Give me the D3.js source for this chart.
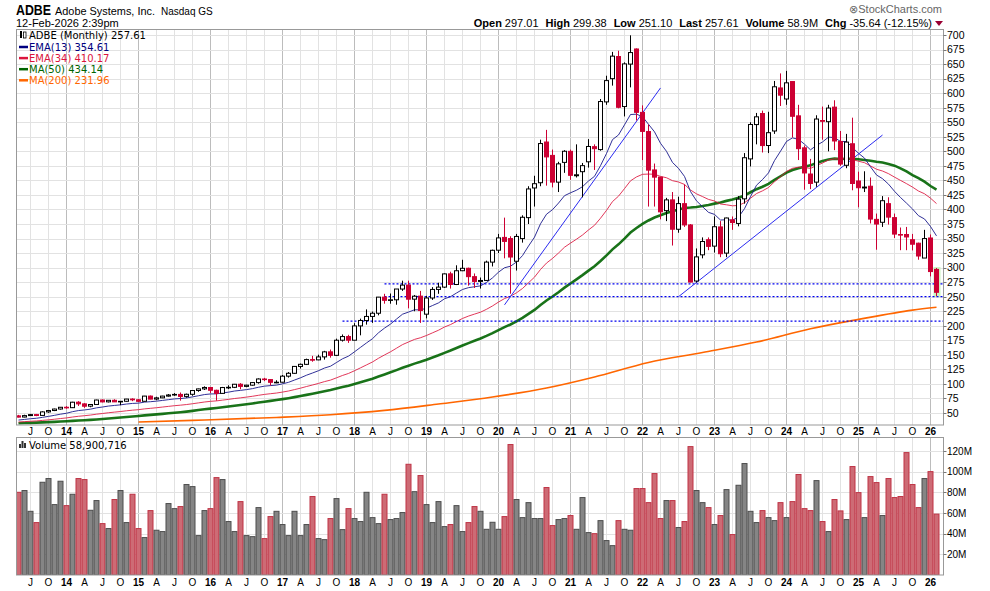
<!DOCTYPE html>
<html>
<head>
<meta charset="utf-8">
<script src="https://cdn.jsdelivr.net/npm/d3@7"></script>
<style>
  body { margin: 0; background: #fff; }
  svg { display: block; font-family: "DejaVu Sans", Verdana, sans-serif; }
</style>
</head>
<body>
<div id="chart"></div>
<script>
// monthly bars, May 2013 .. Feb 2026
const months = d3.timeMonth.range(new Date(2013, 4, 1), new Date(2026, 2, 1));

// closes before the first bar (Apr 2009 .. Apr 2013), only used to warm up the averages
const priorCloses = [
  27.35, 28.21, 28.30, 32.42, 31.41, 33.04, 34.92, 35.03, 36.78,
  32.30, 34.67, 35.37, 33.59, 32.08, 26.43, 28.72, 27.48, 26.15, 28.15, 27.68, 30.78,
  33.02, 34.33, 33.16, 33.55, 34.58, 31.45, 27.74, 25.17, 24.17, 29.41, 27.44, 28.27,
  30.92, 32.89, 34.31, 33.59, 32.42, 32.37, 30.86, 31.27, 32.43, 34.00, 34.61, 37.68,
  37.86, 39.04, 43.52, 45.07
];

const opens = [
  45.1, 43.1, 45.6, 47.3, 45.9, 51.9, 54.3, 56.9,
  59.9, 59.2, 68.6, 65.7, 61.8, 64.7, 72.4, 69.2, 71.9, 69.2, 70.2, 74.0,
  72.8, 70.2, 79.1, 74.0, 76.1, 79.1, 81.0, 82.0, 78.6, 82.2, 88.7, 91.5,
  93.9, 89.1, 83.8, 93.8, 94.2, 99.5, 95.8, 97.9, 102.3, 108.5, 107.5, 102.8,
  103.0, 113.4, 118.3, 130.1, 133.7, 141.9, 141.4, 146.5, 155.2, 149.2, 175.2, 181.5,
  175.2, 199.8, 209.1, 216.1, 221.6, 249.3, 243.8, 244.7, 263.2, 270.0, 245.8, 251.0,
  220.0, 247.8, 262.5, 266.5, 289.3, 271.0, 294.7, 298.9, 284.5, 276.3, 278.0, 309.5,
  330.0, 352.0, 350.0, 311.0, 350.0, 386.0, 437.0, 446.0, 516.0, 493.0, 447.0, 481.0,
  500.0, 458.0, 465.0, 482.0, 508.0, 503.0, 585.0, 625.0, 663.0, 577.0, 650.0, 676.0,
  567.0, 534.0, 468.0, 455.6, 398.0, 416.5, 366.0, 410.0, 373.4, 277.0, 322.0, 348.0,
  337.0, 370.0, 325.0, 382.0, 376.0, 418.3, 487.0, 546.0, 565.0, 510.0, 535.0, 609.0,
  590.0, 620.0, 561.0, 506.0, 461.0, 447.0, 553.0, 551.0, 576.0, 517.0, 476.0, 513.0,
  449.0, 437.0, 440.0, 383.0, 378.0, 410.0, 386.0, 357.0, 357.0, 348.0, 342.0, 316.5,
  351.0, 297.01
];
const highs = [
  46.8, 47.0, 48.5, 48.4, 52.9, 55.3, 57.5, 60.2,
  61.9, 69.3, 70.4, 67.0, 65.5, 72.9, 73.2, 72.3, 73.6, 70.7, 74.3, 75.3,
  74.4, 79.5, 80.1, 78.0, 79.6, 82.6, 84.2, 85.3, 83.4, 89.3, 92.0, 95.9,
  94.0, 90.1, 94.9, 97.7, 100.0, 101.4, 98.6, 103.0, 109.6, 110.5, 108.0, 106.3,
  115.3, 120.4, 130.9, 135.0, 143.5, 148.3, 150.3, 156.9, 159.2, 177.9, 185.1, 184.5,
  204.5, 212.3, 228.2, 224.5, 249.6, 255.0, 255.5, 263.3, 277.6, 277.6, 253.0, 260.0,
  251.5, 266.5, 274.0, 290.0, 293.0, 304.0, 313.5, 300.0, 290.0, 283.0, 312.0, 331.0,
  358.0, 386.0, 354.0, 358.0, 390.0, 440.0, 458.0, 520.0, 536.9, 503.0, 482.0, 502.0,
  503.0, 512.0, 480.0, 521.0, 512.0, 590.0, 630.0, 671.0, 673.0, 653.0, 699.5, 677.0,
  579.0, 546.0, 479.0, 456.0, 420.0, 430.0, 422.0, 443.0, 375.0, 333.0, 352.0, 352.0,
  388.0, 380.0, 386.0, 388.0, 423.0, 497.0, 550.0, 566.0, 570.0, 568.0, 621.0, 634.0,
  638.3, 620.0, 580.0, 510.0, 487.0, 562.0, 577.0, 580.0, 587.8, 535.0, 530.0, 557.9,
  465.0, 465.7, 455.0, 393.0, 423.0, 421.0, 393.0, 369.0, 370.0, 358.0, 343.0, 365.0,
  357.0, 299.38
];
const lows = [
  42.4, 42.6, 45.0, 44.6, 45.6, 50.4, 53.3, 55.9,
  57.4, 58.6, 62.1, 58.9, 59.9, 64.2, 68.3, 68.2, 68.9, 63.5, 69.5, 70.4,
  68.9, 69.9, 73.6, 72.0, 75.6, 78.2, 79.6, 71.3, 76.4, 79.7, 86.5, 89.6,
  84.5, 71.3, 83.6, 91.1, 92.9, 90.9, 94.4, 97.1, 100.5, 104.8, 97.3, 101.2,
  102.8, 110.9, 117.6, 126.5, 132.5, 138.2, 140.8, 141.8, 145.2, 148.1, 172.9, 170.6,
  175.0, 183.6, 202.0, 205.0, 218.0, 238.0, 238.0, 236.2, 260.0, 230.0, 225.0, 204.95,
  212.8, 244.5, 255.0, 265.0, 264.0, 270.0, 294.0, 269.0, 265.0, 264.0, 277.0, 302.0,
  325.0, 316.0, 255.1, 295.0, 343.0, 375.0, 405.0, 440.0, 441.0, 438.0, 430.0, 463.0,
  451.0, 455.0, 420.8, 472.0, 468.0, 501.0, 580.0, 613.0, 574.0, 560.0, 610.0, 553.0,
  485.0, 405.0, 405.0, 383.0, 380.0, 338.0, 360.0, 370.0, 274.7, 274.5, 316.0, 330.0,
  326.0, 318.0, 318.0, 365.0, 371.0, 410.0, 474.0, 512.0, 498.0, 497.0, 530.0, 578.0,
  580.0, 524.0, 485.0, 434.0, 435.0, 439.0, 520.0, 500.0, 502.0, 475.0, 471.0, 433.0,
  403.8, 430.0, 376.0, 330.8, 370.0, 374.0, 351.0, 330.0, 330.0, 329.6, 313.6, 317.0,
  285.0, 251.10
];
const closes = [
  42.99, 45.56, 47.27, 45.77, 51.94, 54.20, 56.82, 59.88,
  59.19, 68.60, 65.74, 61.72, 64.65, 72.36, 69.11, 71.89, 69.19, 70.12, 73.99, 72.70,
  70.13, 79.10, 73.94, 76.06, 79.09, 81.01, 81.99, 78.56, 82.22, 88.66, 91.46, 93.94,
  89.13, 83.81, 93.80, 94.22, 99.47, 95.79, 97.86, 102.31, 108.54, 107.51, 102.81, 102.95,
  113.38, 118.34, 130.13, 133.74, 141.86, 141.44, 146.49, 155.16, 149.18, 175.16, 181.47, 175.24,
  199.76, 209.13, 216.08, 221.60, 249.28, 243.81, 244.68, 263.23, 269.95, 245.76, 250.89, 226.24,
  247.82, 262.50, 266.49, 289.25, 271.00, 294.65, 298.86, 284.51, 276.25, 277.93, 309.53, 329.81,
  351.14, 345.12, 318.24, 353.64, 386.60, 435.31, 444.32, 513.39, 490.43, 447.10, 478.47, 500.12,
  458.77, 459.67, 475.37, 508.34, 504.58, 585.64, 621.63, 663.70, 575.72, 650.36, 669.85, 567.06,
  534.30, 467.68, 455.62, 395.95, 416.48, 366.06, 410.12, 373.44, 275.20, 318.50, 344.93, 336.53,
  370.34, 323.94, 385.37, 377.56, 417.79, 488.99, 546.17, 559.34, 509.90, 532.06, 611.01, 596.60,
  617.78, 560.28, 504.60, 462.82, 444.76, 555.54, 551.66, 574.41, 517.78, 478.12, 515.90, 444.68,
  437.42, 438.56, 383.53, 374.98, 415.09, 386.88, 357.70, 356.60, 352.75, 340.30, 320.00, 350.00,
  293.25, 257.61
];
// volume, millions of shares
const volumes = [
  80, 81.7, 61.6, 50.7, 89.7, 93.3, 68.1, 90.7,
  67.1, 78.1, 93.3, 92.3, 62.6, 72, 49.7, 44.9, 73, 81.7, 50.7, 78.1,
  44.9, 36.2, 62.3, 43.3, 42, 69.1, 64.2, 66.2, 87.5, 85.5, 38.1, 62.3,
  64.2, 94.2, 92.3, 51.7, 42, 71, 38.1, 37.1, 65.2, 35.2, 56.5, 61.6,
  48.8, 38.1, 61.6, 38.1, 48.8, 75.9, 35.2, 34.2, 54.6, 73.9, 43.9, 64.2,
  54.6, 51.7, 80, 55.5, 49.7, 78.1, 53.6, 54.6, 60.4, 107.1, 80.6, 96.2,
  68.1, 50.7, 71, 46.8, 48.8, 67.1, 42, 50.7, 66.2, 61.6, 44.2, 51,
  44.2, 56.5, 126.2, 73, 55.5, 70, 54.6, 54.6, 84.6, 47.8, 53.6, 54.6,
  57.5, 44.2, 74.9, 41, 40, 52.6, 33.3, 28.4, 52.6, 44.2, 43.3, 83.6,
  83.6, 70, 98.1, 54.6, 72, 72, 45.9, 51.7, 124.2, 81.7, 70, 65.2,
  48.8, 57.5, 82.6, 39.1, 86.8, 107.8, 61.6, 50.7, 62.3, 55.5, 52.6, 70,
  55.5, 71, 97.2, 64.2, 62.3, 91.3, 51.7, 42, 73, 62, 53.6, 104.9,
  79.7, 55.5, 95.2, 89.4, 57.5, 93.3, 74.9, 75.9, 118.4, 87.5, 65.2, 93.3,
  100, 58.9
];

// MA(200) (its history reaches back before the first bar)
const ma200Months = ['2015-01', '2015-10', '2016-12', '2017-09', '2018-06', '2019-03', '2019-12', '2020-09',
  '2021-05', '2022-02', '2022-11', '2023-08', '2024-05', '2025-01', '2025-10', '2026-02'];
const ma200Values = [34.5, 37.3, 42.4, 47, 54.5, 65.5, 77.5, 93, 112, 137, 154, 172, 195, 211, 227, 231.96];

// drawn annotations
const trendLines = [
  [['2020-02', 236], ['2022-04', 609]],
  [['2022-07', 250], ['2025-05', 528]]
];
const levelLines = [['2018-06', 272], ['2018-06', 250], ['2017-11', 208]];

const priceTicks = [50, 75, 100, 125, 150, 175, 200, 225, 250, 275, 300, 325, 350, 375, 400,
  425, 450, 475, 500, 525, 550, 575, 600, 625, 650, 675, 700];
const volumeTicks = [20, 40, 60, 80, 100, 120];
const quarterLetters = { 3: 'A', 6: 'J', 9: 'O' };

const headerStats = [['Open', '297.01'], ['High', '299.38'], ['Low', '251.10'], ['Last', '257.61'],
  ['Volume', '58.9M'], ['Chg', '-35.64 (-12.15%)']];
const legendItems = [
  { label: 'EMA(13) 354.61', color: '#000080' },
  { label: 'EMA(34) 410.17', color: '#dc143c' },
  { label: 'MA(50) 434.14', color: '#006400' },
  { label: 'MA(200) 231.96', color: '#ff6600' }
];

const width = 990, height = 591;
const RED = '#cc0033';
const pLeft = 16.5, pRight = 943.5;
const pTop = 29.5, pBottom = 425;
const vTop = 437.5, vBottom = 575;

const fmt = d3.timeFormat('%Y-%m');
const keys = months.map(fmt);

const bars = months.map((d, i) => ({
  key: keys[i],
  date: d,
  open: opens[i],
  high: highs[i],
  low: lows[i],
  close: closes[i],
  volume: volumes[i],
  prev: i ? closes[i - 1] : priorCloses[priorCloses.length - 1]
}));

// moving averages over the full close history
const allCloses = priorCloses.concat(closes);
const off = priorCloses.length;

function ema(n) {
  const k = 2 / (n + 1);
  let prev = null;
  const out = allCloses.map((c, i) => {
    if (i === n - 1) prev = d3.mean(allCloses.slice(0, n));
    else if (i >= n) prev = c * k + prev * (1 - k);
    return prev;
  });
  return out.slice(off);
}

function sma(n) {
  return allCloses.map((c, i) => i >= n - 1 ? d3.mean(allCloses.slice(i - n + 1, i + 1)) : null).slice(off);
}

const ema13 = ema(13), ema34 = ema(34), ma50 = sma(50);

// scales
const x = d3.scaleBand().domain(keys).range([15.5, 939.5]);
const cx = k => x(k) + x.bandwidth() / 2;
const y = d3.scaleLinear().domain([29.4, 709.5]).range([pBottom, pTop]);
const yv = d3.scaleLinear().domain([0, 133]).range([vBottom, vTop]);

const svg = d3.select('#chart').append('svg')
  .attr('width', width)
  .attr('height', height);

const defs = svg.append('defs');
defs.append('clipPath').attr('id', 'clip-price')
  .append('rect').attr('x', pLeft).attr('y', pTop).attr('width', pRight - pLeft).attr('height', pBottom - pTop);
defs.append('clipPath').attr('id', 'clip-vol')
  .append('rect').attr('x', pLeft).attr('y', vTop).attr('width', pRight - pLeft).attr('height', vBottom - vTop);

// ---- header
const head = svg.append('g').style('font-family', '"Liberation Sans", Arial, sans-serif');
head.append('text').attr('x', 16).attr('y', 15)
  .attr('font-size', 14).attr('font-weight', 'bold')
  .attr('textLength', 35).attr('lengthAdjust', 'spacingAndGlyphs').text('ADBE');
head.append('text').attr('x', 55).attr('y', 15).attr('font-size', 11.5)
  .attr('textLength', 100).attr('lengthAdjust', 'spacingAndGlyphs').text('Adobe Systems, Inc.');
head.append('text').attr('x', 161).attr('y', 15).attr('font-size', 10).text('Nasdaq GS');
head.append('text').attr('x', 16).attr('y', 27).attr('font-size', 11).text('12-Feb-2026 2:39pm');
head.append('text').attr('x', 942).attr('y', 13).attr('text-anchor', 'end')
  .attr('font-size', 11).attr('fill', '#666').text('\u2297StockCharts.com');

const stats = head.append('text').attr('x', 932).attr('y', 27)
  .attr('text-anchor', 'end').attr('font-size', 11);
headerStats.forEach((s, i) => {
  stats.append('tspan').attr('font-weight', 'bold').attr('dx', i ? 7 : 0).text(s[0]);
  stats.append('tspan').attr('dx', 3).text(s[1]);
});
head.append('path').attr('d', 'M935,21 L943,21 L939,26 Z').attr('fill', '#990033');

// ---- panels and grid
function drawGrid(top, bottom) {
  const g = svg.append('g');
  g.selectAll('line.v')
    .data(bars.filter(d => d.date.getMonth() % 3 === 0))
    .enter().append('line')
    .attr('x1', d => cx(d.key)).attr('x2', d => cx(d.key))
    .attr('y1', top).attr('y2', bottom)
    .attr('stroke', d => d.date.getMonth() === 0 ? '#bcbcbc' : '#e2e2e2')
    .attr('stroke-width', 1);
  return g;
}

drawGrid(pTop, pBottom).selectAll('line.h')
  .data(priceTicks).enter().append('line')
  .attr('x1', pLeft).attr('x2', pRight)
  .attr('y1', d => Math.round(y(d)) + 0.5).attr('y2', d => Math.round(y(d)) + 0.5)
  .attr('stroke', '#e2e2e2');

drawGrid(vTop, vBottom).selectAll('line.h')
  .data(volumeTicks).enter().append('line')
  .attr('x1', pLeft).attr('x2', pRight)
  .attr('y1', d => Math.round(yv(d)) + 0.5).attr('y2', d => Math.round(yv(d)) + 0.5)
  .attr('stroke', '#e2e2e2');

// ---- price panel
const price = svg.append('g').attr('clip-path', 'url(#clip-price)');

// highlight of the latest bar
const last = bars[bars.length - 1];
price.append('rect')
  .attr('x', x(last.key)).attr('width', x.bandwidth() + 1)
  .attr('y', y(last.high) - 1).attr('height', y(last.low) - y(last.high) + 2)
  .attr('fill', '#c9f5c0');

// averages
const lineGen = vals => d3.line()
  .defined((d, i) => vals[i] != null)
  .x(d => cx(d.key))
  .y((d, i) => y(vals[i]))(bars);

price.append('path').attr('d', d3.line()
    .x((d, i) => cx(d))
    .y((d, i) => y(ma200Values[i]))
    .curve(d3.curveMonotoneX)(ma200Months))
  .attr('fill', 'none').attr('stroke', '#ff6600').attr('stroke-width', 1.6);
price.append('path').attr('d', lineGen(ma50))
  .attr('fill', 'none').attr('stroke', '#006400').attr('stroke-width', 2.6).attr('stroke-opacity', 0.9);
price.append('path').attr('d', lineGen(ema34))
  .attr('fill', 'none').attr('stroke', '#dc143c').attr('stroke-width', 1).attr('stroke-opacity', 0.85);
price.append('path').attr('d', lineGen(ema13))
  .attr('fill', 'none').attr('stroke', '#1a1a8c').attr('stroke-width', 1).attr('stroke-opacity', 0.9);

// annotations
price.selectAll('line.level')
  .data(levelLines).enter().append('line')
  .attr('x1', d => cx(d[0])).attr('x2', pRight)
  .attr('y1', d => y(d[1])).attr('y2', d => y(d[1]))
  .attr('stroke', '#0000ee').attr('stroke-width', 1.2).attr('stroke-dasharray', '2,2');

price.selectAll('line.trend')
  .data(trendLines).enter().append('line')
  .attr('x1', d => cx(d[0][0])).attr('y1', d => y(d[0][1]))
  .attr('x2', d => cx(d[1][0])).attr('y2', d => y(d[1][1]))
  .attr('stroke', '#2b2bf0').attr('stroke-width', 1);

// candles
const candle = price.append('g').selectAll('g')
  .data(bars).enter().append('g');

const col = d => d.close >= d.prev ? '#000' : RED;

candle.append('line')
  .attr('x1', d => cx(d.key)).attr('x2', d => cx(d.key))
  .attr('y1', d => y(d.high)).attr('y2', d => y(d.low))
  .attr('stroke', col).attr('stroke-width', 1);

candle.append('rect')
  .attr('x', d => cx(d.key) - 2)
  .attr('width', 4)
  .attr('y', d => y(Math.max(d.open, d.close)))
  .attr('height', d => Math.max(0.6, Math.abs(y(d.open) - y(d.close))))
  .attr('fill', d => d.close < d.open ? col(d) : '#fff')
  .attr('stroke', col).attr('stroke-width', 1);

// panel frame + right axis
svg.append('rect').attr('x', pLeft).attr('y', pTop)
  .attr('width', pRight - pLeft).attr('height', pBottom - pTop)
  .attr('fill', 'none').attr('stroke', '#999');

const axisFont = '"Liberation Sans", Arial, sans-serif';
const pAxis = svg.append('g');
pAxis.selectAll('line').data(priceTicks).enter().append('line')
  .attr('x1', pRight).attr('x2', pRight + 3)
  .attr('y1', d => Math.round(y(d)) + 0.5).attr('y2', d => Math.round(y(d)) + 0.5)
  .attr('stroke', '#777');
pAxis.selectAll('text').data(priceTicks).enter().append('text')
  .attr('x', pRight + 3.5).attr('y', d => y(d) + 3.8)
  .attr('font-size', 10.5).style('font-family', axisFont).text(d => d);

// legend
const leg = svg.append('g').attr('font-size', 10);
leg.append('rect').attr('x', 20).attr('y', 31).attr('width', 2).attr('height', 7).attr('fill', '#000');
leg.append('rect').attr('x', 23.5).attr('y', 32).attr('width', 2.5).attr('height', 6).attr('fill', '#fff').attr('stroke', '#000').attr('stroke-width', 0.8);
leg.append('text').attr('x', 29).attr('y', 38.5).text('ADBE (Monthly) 257.61');
legendItems.forEach((d, i) => {
  const yy = 47 + i * 11.1;
  leg.append('line').attr('x1', 19).attr('x2', 28).attr('y1', yy).attr('y2', yy)
    .attr('stroke', d.color).attr('stroke-width', 2.5);
  leg.append('text').attr('x', 29).attr('y', yy + 3.5).attr('fill', d.color).text(d.label);
});

// ---- volume panel
const vol = svg.append('g').attr('clip-path', 'url(#clip-vol)');
vol.selectAll('rect').data(bars).enter().append('rect')
  .attr('x', d => x(d.key) + 0.5)
  .attr('width', x.bandwidth() - 1)
  .attr('y', d => yv(d.volume))
  .attr('height', d => vBottom - yv(d.volume))
  .attr('fill', d => d.close >= d.prev ? '#858585' : '#cd6b75')
  .attr('stroke', d => d.close >= d.prev ? '#4d4d4d' : '#bf3345')
  .attr('stroke-width', 1);

svg.append('rect').attr('x', pLeft).attr('y', vTop)
  .attr('width', pRight - pLeft).attr('height', vBottom - vTop)
  .attr('fill', 'none').attr('stroke', '#999');

const vAxis = svg.append('g');
vAxis.selectAll('line').data(volumeTicks).enter().append('line')
  .attr('x1', pRight).attr('x2', pRight + 3)
  .attr('y1', d => Math.round(yv(d)) + 0.5).attr('y2', d => Math.round(yv(d)) + 0.5)
  .attr('stroke', '#777');
vAxis.selectAll('text').data(volumeTicks).enter().append('text')
  .attr('x', pRight + 3.5).attr('y', d => yv(d) + 3.8)
  .attr('font-size', 10).style('font-family', axisFont).text(d => d + 'M');

const vleg = svg.append('g');
[[19, 4], [21.5, 7], [24, 5]].forEach(b => {
  vleg.append('rect').attr('x', b[0]).attr('y', 448 - b[1]).attr('width', 2).attr('height', b[1]).attr('fill', '#333');
});
vleg.append('text').attr('x', 29).attr('y', 448.5).attr('font-size', 10).text('Volume 58,900,716');

// ---- date labels (between panels and at the bottom)
const quarters = bars.filter(d => d.date.getMonth() % 3 === 0);
[434.5, 586].forEach(yy => {
  svg.append('g').selectAll('text').data(quarters).enter().append('text')
    .attr('x', d => cx(d.key)).attr('y', yy)
    .attr('text-anchor', 'middle')
    .attr('font-size', 10)
    .attr('font-weight', d => d.date.getMonth() === 0 ? 'bold' : 'normal')
    .style('font-family', axisFont)
    .text(d => d.date.getMonth() === 0 ? d3.timeFormat('%y')(d.date) : quarterLetters[d.date.getMonth()]);
});
</script>
</body>
</html>
